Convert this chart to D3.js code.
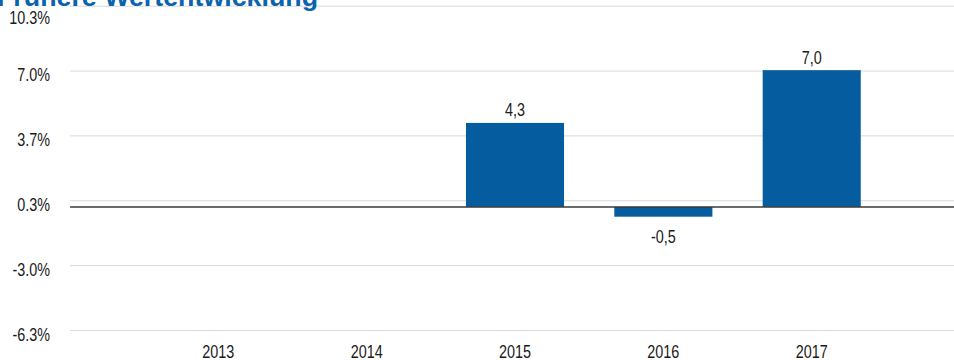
<!DOCTYPE html>
<html>
<head>
<meta charset="utf-8">
<script src="https://cdn.jsdelivr.net/npm/d3@7"></script>
<style>
  html, body { margin: 0; padding: 0; background: #fff; }
  svg { display: block; }
  .lbl { font-family: "Liberation Sans", Arial, sans-serif; font-size: 18px; fill: #1a1a1a; }
</style>
</head>
<body>
<svg id="chart" width="954" height="360"></svg>
<script>
// Calendar years shown on the category axis
const years = ["2013", "2014", "2015", "2016", "2017"];
// Annual performance in percent (no value for years without history)
const returns = [null, null, 4.3, -0.5, 7.0];
// Value-axis ticks: five equal steps between -6.3 and 10.3
const yTicks = [-6.3, -2.98, 0.34, 3.66, 6.98, 10.3];
const title = "Frühere Wertentwicklung";

const W = 954, H = 360;
const NARROW = 0.8; // horizontal squeeze giving a narrow sans look
const svg = d3.select("#chart");

const locale = d3.formatLocale({ decimal: ".", thousands: ",", grouping: [3], currency: ["", ""], minus: "-" });
const fmtTick = locale.format(".1f");
const fmtVal = v => locale.format(".1f")(v).replace(".", ",");

const plotLeft = 70, plotRight = 960;
const x = d3.scaleBand()
  .domain(years)
  .range([plotLeft, plotRight])
  .paddingInner(0.339)
  .paddingOuter(0.669)
  .align(0.5);

const y = d3.scaleLinear()
  .domain([-6.3, 10.3])
  .range([330, 5.7]);

// Places a narrow label at (px, py)
function narrow(sel, px, py) {
  sel.attr("x", 0).attr("y", 0).attr("dy", 0)
    .attr("transform", (d, i) => `translate(${px(d, i)},${py(d, i)}) scale(${NARROW},1)`);
}

// Horizontal grid lines with percentage labels on the left
const yAxis = d3.axisLeft(y)
  .tickValues(yTicks)
  .tickSize(-(W - plotLeft))
  .tickFormat(d => fmtTick(d) + "%");

const gy = svg.append("g")
  .attr("transform", `translate(${plotLeft},0)`)
  .call(yAxis);
gy.select(".domain").remove();
gy.selectAll(".tick line")
  .attr("stroke", "#d9d9d9")
  .attr("stroke-width", 1);
gy.selectAll(".tick text")
  .attr("class", "lbl")
  .attr("text-anchor", "end")
  .call(narrow, () => -20, d => (d === yTicks[yTicks.length - 1] ? 18 : 10));

// Title, partly cut off by the top edge
svg.append("text")
  .attr("x", -3)
  .attr("y", 6)
  .attr("font-family", "Liberation Sans, Arial, sans-serif")
  .attr("font-weight", "bold")
  .attr("font-size", 25)
  .attr("fill", "#0b63ad")
  .attr("textLength", 321)
  .attr("lengthAdjust", "spacingAndGlyphs")
  .text(title);

// Bars
const data = years.map((yr, i) => ({ year: yr, value: returns[i] }))
  .filter(d => d.value !== null);

svg.append("g")
  .selectAll("rect")
  .data(data)
  .join("rect")
  .attr("x", d => x(d.year))
  .attr("width", x.bandwidth())
  .attr("y", d => y(Math.max(0, d.value)))
  .attr("height", d => Math.abs(y(d.value) - y(0)))
  .attr("fill", "#055c9f");

// Zero line
svg.append("line")
  .attr("x1", plotLeft)
  .attr("x2", W)
  .attr("y1", y(0))
  .attr("y2", y(0))
  .attr("stroke", "#3a3a3a")
  .attr("stroke-width", 1.5);

// Value labels above positive bars, below negative bars
svg.append("g")
  .selectAll("text")
  .data(data)
  .join("text")
  .attr("class", "lbl")
  .attr("text-anchor", "middle")
  .text(d => fmtVal(d.value))
  .call(narrow,
    d => x(d.year) + x.bandwidth() / 2,
    d => d.value >= 0 ? y(d.value) - 6.5 : y(d.value) + 26);

// Category labels
const xAxis = d3.axisBottom(x).tickSize(0);
const gx = svg.append("g")
  .attr("transform", `translate(0,${H})`)
  .call(xAxis);
gx.select(".domain").remove();
gx.selectAll(".tick text")
  .attr("class", "lbl")
  .attr("text-anchor", "middle")
  .call(narrow, () => 0, () => -2);
</script>
</body>
</html>
